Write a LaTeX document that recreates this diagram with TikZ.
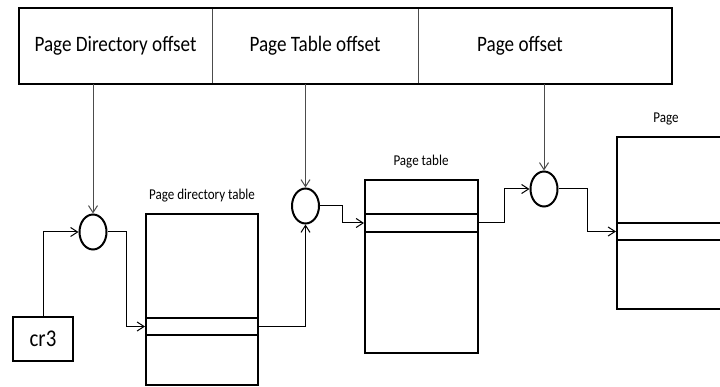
\documentclass[tikz,border=0pt]{standalone}
\usepackage{fontspec}
\setmainfont[FakeStretch=0.87]{Carlito}
\usetikzlibrary{arrows.meta,shapes.geometric}

\tikzset{
  field/.style={draw=black!70,line width=0.6pt,minimum height=76pt,inner sep=0,font=\fontsize{22}{24}\selectfont},
  adder/.style={draw,ellipse,line width=2pt,minimum width=27pt,minimum height=35pt,inner sep=0},
  table/.style={draw,line width=2pt,inner sep=0},
  tlabel/.style={font=\fontsize{15}{17}\selectfont},
  conn/.style={line width=1pt,-{Straight Barb[length=7pt,width=9pt]}}
}

\begin{document}
\begin{tikzpicture}[x=1pt,y=-1pt]
    \clip (0,0) rectangle (720,387);
    %LINEAR ADDRESS
    \node[field,minimum width=193pt] (pdo) at (115.5,46) {Page Directory offset};
    \node[field,minimum width=206pt] (pto) at (315,46) {Page Table offset};
    \node[field,minimum width=254pt] (po) at (545,46) {};
    \node[field,draw=none] (potext) at (520,46) {Page offset};
    \draw[line width=2pt] (pdo.north west) rectangle (po.south east);
    % ADDERS
    \node[adder] (c1) at (93,232) {};
    \node[adder] (c2) at (305.5,206) {};
    \node[adder] (c3) at (544,189) {};
    % CR3
    \node[table,minimum width=60pt,minimum height=44pt,font=\fontsize{24}{26}\selectfont] (cr3) at (43,339) {cr3};
    % TABLES , row = selected entry
    \node[table,minimum width=112pt,minimum height=171pt] (pdt) at (202,299.5) {};
    \draw[line width=2pt] (pdt.west |- 0,318) -- (pdt.east |- 0,318) (pdt.west |- 0,335) -- (pdt.east |- 0,335);
    \coordinate (pdtrow) at (202,326.5);
    \node[tlabel] (pdtlabel) at (202,196) {Page directory table};
    \node[table,minimum width=113pt,minimum height=173pt] (pt) at (421.5,266.5) {};
    \draw[line width=2pt] (pt.west |- 0,214) -- (pt.east |- 0,214);
    \draw[line width=1.2pt] (pt.west |- 0,232) -- (pt.east |- 0,232);
    \coordinate (ptrow) at (421.5,223);
    \node[tlabel] (ptlabel) at (421,162) {Page table};
    \node[table,minimum width=112pt,minimum height=172pt] (page) at (673,223) {};
    \draw[line width=2pt] (page.west |- 0,223) -- (page.east |- 0,223) (page.west |- 0,240) -- (page.east |- 0,240);
    \coordinate (pagerow) at (673,231.5);
    \node[tlabel] (pagelabel) at (666,119) {Page};
    % OFFSETS DOWN TO ADDERS
    \draw[conn,black!70] (pdo.south -| c1.north) -- (c1.north);
    \draw[conn,black!70] (pto.south -| c2.north) -- (c2.north);
    \draw[conn,black!70] (po.south -| c3.north) -- (c3.north);
    % BASES
    \draw[conn] (cr3.north) |- (c1.west);
    \draw[conn] (c1.east) -- (126,232) |- (pdt.west |- pdtrow);
    \draw[conn] (pdt.east |- pdtrow) -| (c2.south);
    \draw[conn] (c2.east) -- (342,206) |- (pt.west |- ptrow);
    \draw[conn] (pt.east |- ptrow) -- (504,223) |- (c3.west);
    \draw[conn] (c3.east) -- (587,189) |- (page.west |- pagerow);
\end{tikzpicture}
\end{document}
